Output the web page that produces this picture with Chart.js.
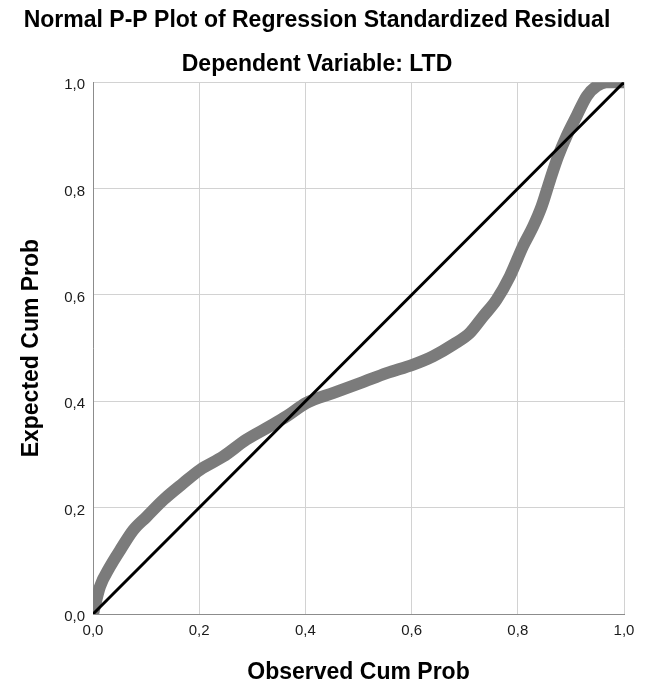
<!DOCTYPE html>
<html>
<head>
<meta charset="utf-8">
<title>Normal P-P Plot of Regression Standardized Residual</title>
<script src="https://cdn.jsdelivr.net/npm/chart.js@4/dist/chart.umd.min.js"></script>
<style>
  html, body { margin: 0; padding: 0; background: #fff; }
  canvas { display: block; }
</style>
</head>
<body>
<canvas id="pp" width="646" height="688"></canvas>
<script>
// Observed vs expected cumulative probability of the standardized residuals
const obsCumProb = [0, 0.013, 0.032, 0.051, 0.076, 0.101, 0.133, 0.170, 0.2015, 0.245, 0.289, 0.333, 0.365,
  0.402, 0.453, 0.503, 0.553, 0.603, 0.641, 0.679, 0.710, 0.735, 0.760, 0.785, 0.810, 0.829, 0.845,
  0.861, 0.876, 0.892, 0.911, 0.930, 0.949, 0.967, 1.0]
const expCumProb = [0, 0.051, 0.089, 0.120, 0.158, 0.183, 0.215, 0.246, 0.271, 0.296, 0.328, 0.353, 0.372,
  0.397, 0.416, 0.434, 0.453, 0.469, 0.485, 0.507, 0.529, 0.560, 0.591, 0.635, 0.692, 0.729, 0.767,
  0.817, 0.861, 0.899, 0.937, 0.974, 0.993, 1.0, 1.0]

// reference line (normal distribution)
const diagX = [0, 1]
const diagY = [0, 1]

const tickLabels = ["0,0", "0,2", "0,4", "0,6", "0,8", "1,0"]

const FONT = "'Liberation Sans', Arial, sans-serif"

const toPoints = (xs, ys) => xs.map((x, i) => ({ x: x, y: ys[i] }))

new Chart(document.getElementById("pp"), {
  type: "scatter",
  data: {
    datasets: [
      {
        label: "Diagonal",
        data: toPoints(diagX, diagY),
        showLine: true,
        borderColor: "#000",
        borderWidth: 3,
        pointRadius: 0,
        clip: 0
      },
      {
        label: "Residual",
        data: toPoints(obsCumProb, expCumProb),
        showLine: true,
        borderColor: "#7b7b7b",
        borderWidth: 12,
        pointRadius: 0,
        cubicInterpolationMode: "monotone",
        borderJoinStyle: "round",
        clip: 0
      }
    ]
  },
  options: {
    responsive: false,
    animation: false,
    layout: {
      padding: { left: 10, right: 22, top: 0, bottom: 0 }
    },
    plugins: {
      legend: { display: false },
      tooltip: { enabled: false },
      title: {
        display: true,
        text: "Normal P-P Plot of Regression Standardized Residual",
        color: "#000",
        font: { family: FONT, size: 23, weight: "bold" },
        padding: { top: 7, bottom: 0 }
      },
      subtitle: {
        display: true,
        text: "Dependent Variable: LTD",
        color: "#000",
        font: { family: FONT, size: 23, weight: "bold" },
        padding: { top: 16, bottom: 4 }
      }
    },
    scales: {
      x: {
        type: "linear",
        min: 0,
        max: 1,
        ticks: {
          stepSize: 0.2,
          padding: 8,
          color: "#1a1a1a",
          font: { family: FONT, size: 15 },
          callback: (v, i) => tickLabels[i]
        },
        grid: { color: "#d2d2d2", drawTicks: false },
        border: { color: "#8c8c8c", width: 1 },
        title: {
          display: true,
          text: "Observed Cum Prob",
          color: "#000",
          font: { family: FONT, size: 23, weight: "bold" },
          padding: { top: 0, bottom: 2 }
        },
        afterFit: (scale) => { scale.height = 74 }
      },
      y: {
        type: "linear",
        min: 0,
        max: 1,
        ticks: {
          stepSize: 0.2,
          padding: 8,
          labelOffset: 3,
          color: "#1a1a1a",
          font: { family: FONT, size: 15 },
          callback: (v, i) => tickLabels[i]
        },
        grid: { color: "#d2d2d2", drawTicks: false },
        border: { color: "#8c8c8c", width: 1 },
        title: {
          display: true,
          text: "Expected Cum Prob",
          color: "#000",
          font: { family: FONT, size: 23, weight: "bold" },
          padding: { top: 8, bottom: 0 }
        },
        afterFit: (scale) => { scale.width = 83 }
      }
    }
  }
})
</script>
</body>
</html>
